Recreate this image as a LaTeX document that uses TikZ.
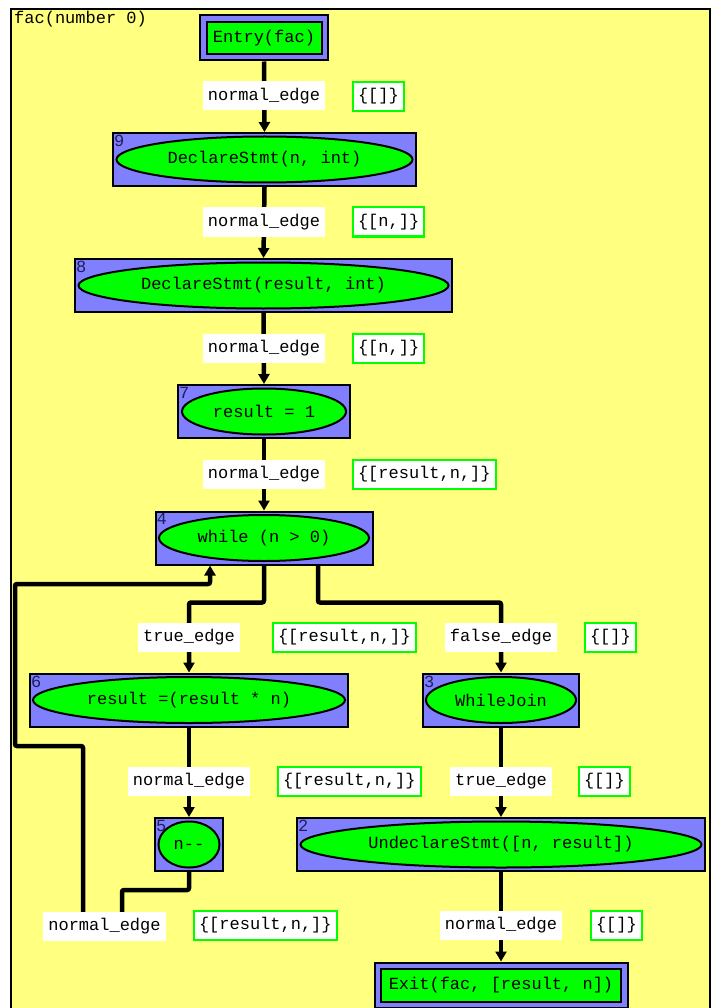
\documentclass[tikz,border=0pt]{standalone}
\usepackage{fontspec}
\setmainfont{Liberation Mono}
\usetikzlibrary{shapes.geometric,arrows.meta,calc}
\definecolor{bg}{RGB}{255,255,128}
\definecolor{nb}{RGB}{128,128,255}
\definecolor{ng}{RGB}{0,255,0}
\definecolor{numc}{RGB}{30,30,90}
\newcommand\mystmt[8]{%
  % #1 name, #2 cx, #3 cy, #4 box w, #5 ell w, #6 number, #7 text, #8 ell h
  \node[box, minimum width=#4] (#1) at (#2,#3) {};
  \node[num] (#1num) at ($(#1.north west)+(2,3)$) {#6};
  \node[ell, minimum width=#5, minimum height=#8] (#1ell) at (#2,#3) {#7};
}
\begin{document}
\begin{tikzpicture}[x=1pt,y=-1pt,font=\fontsize{17}{20}\selectfont,
  box/.style={draw=black, fill=nb, line width=2pt, inner sep=0pt, minimum height=53pt},
  inbox/.style={draw=black, fill=ng, line width=2pt, inner sep=0pt},
  ell/.style={ellipse, draw=black, fill=ng, line width=2pt, inner sep=0pt},
  num/.style={anchor=north west, inner sep=0pt, text=numc},
  lab/.style={fill=white, inner xsep=5pt, inner ysep=0pt, minimum height=29pt},
  sset/.style={fill=white, draw=ng, line width=2pt, inner xsep=5pt, inner ysep=0pt, minimum height=29pt, anchor=west},
  flow/.style={line width=4.5pt, rounded corners=2pt, -{Triangle[width=11pt,length=10pt]}}
]
\useasboundingbox (0,0) rectangle (713,1008);
\draw[fill=bg, line width=2pt] (11,9) rectangle (710,1030);
\node[anchor=north west, inner sep=0pt] (title) at (14,11) {fac(number 0)};

% nodes
\node[box, minimum width=128pt, minimum height=45pt] (entry) at (264,38) {};
\node[inbox, minimum width=115pt, minimum height=32pt] (entryin) at (264,38) {Entry(fac)};
\mystmt{n9}{264.5}{159.5}{303pt}{296pt}{9}{DeclareStmt(n, int)}{46pt}
\mystmt{n8}{263.5}{285.5}{377pt}{370pt}{8}{DeclareStmt(result, int)}{46pt}
\mystmt{n7}{264}{411.5}{172pt}{164pt}{7}{result = 1}{46pt}
\mystmt{n4}{264}{538}{217pt}{210pt}{4}{while (n > 0)}{46pt}
\mystmt{n6}{189}{700}{318pt}{312pt}{6}{result =(result * n)}{46pt}
\mystmt{n3}{501}{700}{156pt}{150pt}{3}{WhileJoin}{46pt}
\mystmt{n5}{189}{844.5}{68pt}{61pt}{5}{n-{}-}{46pt}
\mystmt{n2}{501}{844.5}{408pt}{401pt}{2}{UndeclareStmt([n, result])}{46pt}
\node[box, minimum width=253pt, minimum height=45pt] (exit) at (501,985) {};
\node[inbox, minimum width=240pt, minimum height=33pt] (exitin) at (501,985) {Exit(fac, [result, n])};

% edges
\draw[flow] (entry.south) -- (n9.north);
\draw[flow] (n9.south) -- (n8.north);
\draw[flow] (n8.south) -- (n7.north);
\draw[flow] (n7.south) -- (n4.north);
\draw[flow] (n4.south) -- ++(0,37) -| (n6.north);
\draw[flow] ([xshift=54pt]n4.south) -- ++(0,37) -| (n3.north);
\draw[flow] (n6.south) -- (n5.north);
\draw[flow] (n3.south) -- (n2.north);
\draw[flow] (n2.south) -- (exit.north);
\draw[flow] (n5.south) |- (122,890) -- (122,926) -| (83,746) -| (15,584) -| ([xshift=-54pt]n4.south);

% edge labels
\node[lab] (e1) at (264,96) {normal\_edge};
\node[sset] (s1) at (352,96.5) {\{[]\}};
\node[lab] (e2) at (264,222) {normal\_edge};
\node[sset] (s2) at (352,222) {\{[n,]\}};
\node[lab] (e3) at (264,348) {normal\_edge};
\node[sset] (s3) at (352,348) {\{[n,]\}};
\node[lab] (e4) at (264,474) {normal\_edge};
\node[sset] (s4) at (352,474.5) {\{[result,n,]\}};
\node[lab] (e5) at (189,637) {true\_edge};
\node[sset] (s5) at (272,637) {\{[result,n,]\}};
\node[lab] (e6) at (501,637) {false\_edge};
\node[sset] (s6) at (584,637) {\{[]\}};
\node[lab] (e7) at (189,781) {normal\_edge};
\node[sset] (s7) at (277,781) {\{[result,n,]\}};
\node[lab] (e8) at (501,781) {true\_edge};
\node[sset] (s8) at (578,781) {\{[]\}};
\node[lab] (e9) at (104.5,926) {normal\_edge};
\node[sset] (s9) at (193,925) {\{[result,n,]\}};
\node[lab] (e10) at (501,925) {normal\_edge};
\node[sset] (s10) at (590,925) {\{[]\}};
\end{tikzpicture}
\end{document}
